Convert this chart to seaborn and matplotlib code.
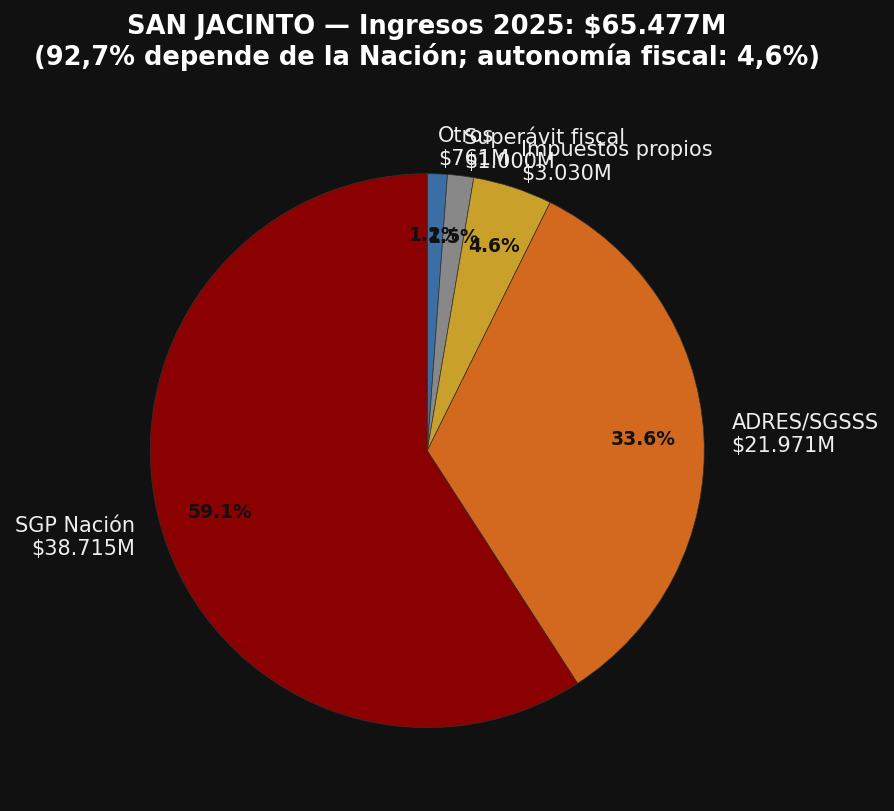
import matplotlib
matplotlib.use("Agg")
import matplotlib.pyplot as plt
import seaborn as sns

sns.set_theme(style="dark")
plt.rcParams['font.family'] = ['DejaVu Sans']

# fuentes de ingreso 2025 (millones)
fuentes = ['Otros', 'Superávit fiscal', 'Impuestos propios', 'ADRES/SGSSS', 'SGP Nación']
valores = [761, 1000, 3030, 21971, 38715]
etiquetas = ['$761M', '$1.000M', '$3.030M', '$21.971M', '$38.715M']
colores = ['#3a6ea5', '#888888', '#c9a12a', '#d2691e', '#8b0000']

fondo = '#111111'
fig = plt.figure(figsize=(8.94, 8.12), dpi=100)
fig.patch.set_facecolor(fondo)
ax = fig.add_axes([0.0906, 0.0172, 0.7746, 0.853])
ax.set_facecolor(fondo)

labels = [f'{f}\n{e}' for f, e in zip(fuentes, etiquetas)]
wedges, texts, autotexts = ax.pie(
    valores, labels=labels, colors=colores, startangle=90, counterclock=False,
    autopct='%1.1f%%', pctdistance=0.78, labeldistance=1.1,
    wedgeprops={'edgecolor': '#333333', 'linewidth': 0.5},
    textprops={'fontsize': 15})
for t in texts:
    t.set_color('#eeeeee')
for t in autotexts:
    t.set_color('#111111')
    t.set_fontweight('bold')
    t.set_fontsize(13.5)
ax.set_aspect('equal')

fig.text(0.4776, 1 - 14 / 812,
         'SAN JACINTO — Ingresos 2025: $65.477M\n'
         '(92,7% depende de la Nación; autonomía fiscal: 4,6%)',
         color='white', fontsize=18.5, fontweight='bold', ha='center', va='top',
         linespacing=1.15)
fig.savefig('out.png', facecolor=fondo)
